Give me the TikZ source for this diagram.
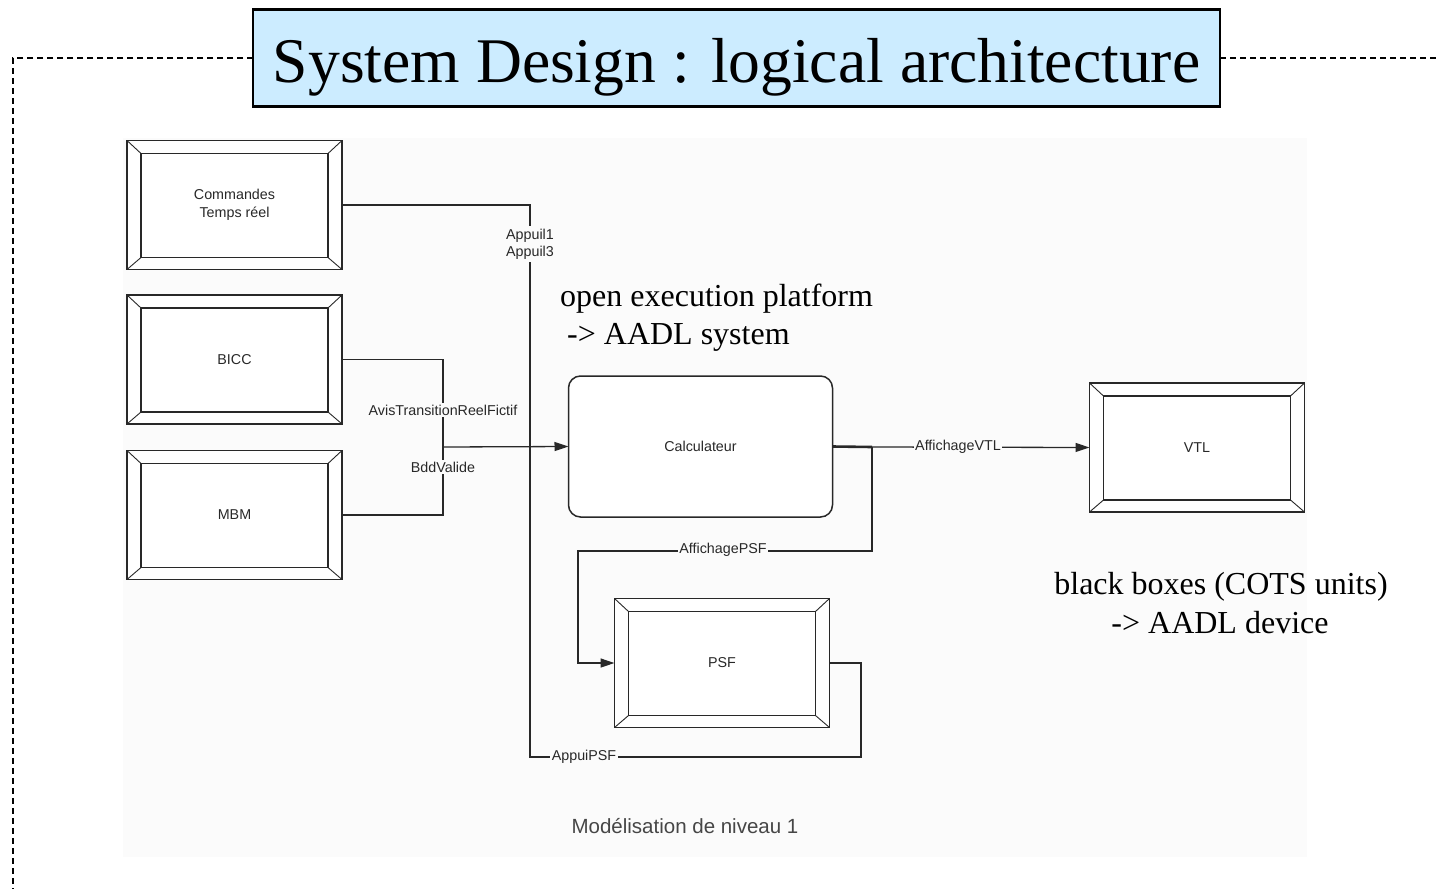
\documentclass[tikz,border=0pt]{standalone}
\usepackage{fontspec}
\setmainfont{Liberation Serif}
\newfontfamily\uifont{Liberation Sans}
\usetikzlibrary{arrows.meta,calc}

\definecolor{titlefill}{RGB}{204,236,255}
\definecolor{canvas}{RGB}{251,251,251}
\definecolor{ink}{RGB}{40,40,40}

\tikzset{
  unitbox/.style={draw=ink, line width=1.6pt, fill=white,
    minimum width=215pt, minimum height=129pt, inner sep=0pt, outer sep=0pt,
    font=\uifont\fontsize{14.3}{17.5}\selectfont, text=ink, align=center},
  procbox/.style={draw=ink, line width=1.5pt, fill=white, rounded corners=12pt,
    minimum width=264pt, minimum height=141pt, inner sep=0pt, outer sep=0pt,
    font=\uifont\fontsize{14.3}{17.5}\selectfont, text=ink},
  bevelline/.style={draw=ink, line width=1.4pt},
  bevelcut/.style={draw=ink, line width=0.9pt},
  wire/.style={draw=ink, line width=1.3pt},
  flow/.style={wire, -{Triangle[length=14pt,width=9pt]}},
  portlabel/.style={fill=canvas, inner sep=1.5pt,
    font=\uifont\fontsize{14.3}{17}\selectfont, text=ink, align=center},
  note/.style={font=\fontsize{32}{38}\selectfont, text=black, inner sep=0pt},
  frame/.style={line width=2.2pt, dash pattern=on 6pt off 4pt},
}

% inner frame and corner cuts of a bevelled unit box
\newcommand\bevelbox[1]{%
  \coordinate (#1-a) at ($(#1.north west)+(14,13)$);
  \coordinate (#1-b) at ($(#1.north east)+(-14,13)$);
  \coordinate (#1-c) at ($(#1.south east)+(-14,-12)$);
  \coordinate (#1-d) at ($(#1.south west)+(14,-12)$);
  \draw[bevelline] (#1-a) rectangle (#1-c);
  \draw[bevelcut] (#1.north west) -- (#1-a) (#1.north east) -- (#1-b)
                  (#1.south east) -- (#1-c) (#1.south west) -- (#1-d);
}

\begin{document}
\begin{tikzpicture}[x=1pt, y=-1pt]
\useasboundingbox (0,0) rectangle (1440,889);

% diagram canvas
\fill[canvas] (123,138) rectangle (1307,857);

% title and dashed frame
\node[draw=black, line width=2.5pt, fill=titlefill, minimum width=967pt,
      minimum height=97pt, inner sep=0pt, outer sep=0pt,
      font=\fontsize{63.6}{70}\selectfont, text height=48pt, text depth=0pt]
  (title) at (736.5,58) {System Design : logical architecture};
\coordinate (frameTL) at (13,58);
\coordinate (frameBL) at (13,889);
\coordinate (frameR) at (1440,58);
\draw[frame] (title.west) -- (frameTL) -- (frameBL);
\draw[frame] (title.east) -- (frameR);

% units
\node[unitbox] (cmd)  at (234.5,205)   {Commandes\\Temps réel};
\node[unitbox] (bicc) at (234.5,359.5) {BICC};
\node[unitbox] (mbm)  at (234.5,515)   {MBM};
\node[unitbox] (vtl)  at (1197,447.5)  {VTL};
\node[unitbox] (psf)  at (722,663)     {PSF};
\bevelbox{cmd}
\bevelbox{bicc}
\bevelbox{mbm}
\bevelbox{vtl}
\bevelbox{psf}

\node[procbox] (calc) at (700.5,446.5) {Calculateur};

% junction points
\coordinate (jIn)   at (443,447);
\coordinate (jOut)  at (872,447);
\coordinate (jPsf)  at (578,551);
\coordinate (aBotL) at (530,757);
\coordinate (aBotR) at (861,757);

% connectors
\draw[wire] (cmd.east) -| (aBotL) -- (aBotR) |- (psf.east);
\draw[wire] (bicc.east) -| (jIn);
\draw[wire] (mbm.east) -| (jIn);
\draw[flow] (jIn) -- (calc.west);
\draw[draw=ink, line width=2.6pt] (calc.east) -- (jOut);
\draw[flow] (jOut) -- (vtl.west);
\draw[flow] (jOut) |- (jPsf) |- (psf.west);

% connector labels
\node[portlabel, inner sep=3pt] (lAppui) at (530,244) {Appuil1\\Appuil3};
\node[portlabel] (lAvis) at (443,410) {AvisTransitionReelFictif};
\node[portlabel] (lBdd)  at (443,467) {BddValide};
\node[portlabel] (lVtl)  at (958,447) {AffichageVTL};
\node[portlabel] (lPsf)  at (723,550) {AffichagePSF};
\node[portlabel] (lApsf) at (584,757) {AppuiPSF};

% annotations
\node[note, anchor=base west] (n1a) at (560,306) {open execution platform};
\node[note, anchor=base west] (n1b) at (567,344) {-> AADL system};
\node[note, anchor=base] (n2a) at (1221,594) {black boxes (COTS units)};
\node[note, anchor=base] (n2b) at (1220,633) {-> AADL device};

\node[font=\uifont\fontsize{20.5}{24}\selectfont, text={rgb,255:red,70;green,70;blue,70}]
  (caption) at (685,826) {Modélisation de niveau 1};
\end{tikzpicture}
\end{document}
